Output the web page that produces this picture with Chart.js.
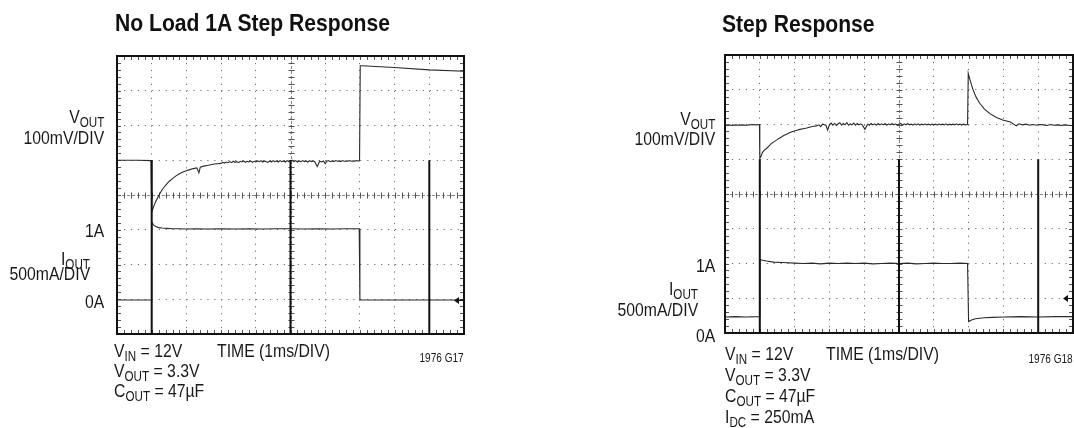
<!DOCTYPE html>
<html><head><meta charset="utf-8">
<script src="https://cdn.jsdelivr.net/npm/chart.js@4.4.1/dist/chart.umd.min.js"></script>
<style>
html,body{margin:0;padding:0;background:#fff;}
#wrap{position:relative;width:1074px;height:428px;overflow:hidden;background:#fff;font-family:"Liberation Sans",Arial,sans-serif;color:#1a1a1a;}
canvas{position:absolute;top:0;}
.t{position:absolute;white-space:nowrap;font-size:19px;line-height:19px;transform:scaleX(0.83);transform-origin:left top;}
.t.r{transform-origin:right top;}
.title{position:absolute;white-space:nowrap;font-weight:bold;font-size:24px;line-height:24px;transform:scaleX(0.88);transform-origin:left top;color:#111;}
.small{position:absolute;white-space:nowrap;font-size:12px;line-height:12px;transform:scaleX(0.84);transform-origin:right top;}
sub{font-size:0.74em;line-height:0;vertical-align:-0.28em;}
</style></head>
<body>
<div id="wrap">
  <canvas id="c1" width="537" height="428" style="left:0;width:537px;height:428px"></canvas>
  <canvas id="c2" width="537" height="428" style="left:537px;width:537px;height:428px"></canvas>

  <div class="title" style="left:115px;top:11px">No Load 1A Step Response</div>
  <div class="t r" style="right:970px;top:107px">V<sub>OUT</sub></div>
  <div class="t r" style="right:970px;top:128px">100mV/DIV</div>
  <div class="t r" style="right:970px;top:221px">1A</div>
  <div class="t r" style="right:984px;top:249px">I<sub>OUT</sub></div>
  <div class="t r" style="right:984px;top:264px">500mA/DIV</div>
  <div class="t r" style="right:970px;top:292px">0A</div>
  <div class="t" style="left:114px;top:341px">V<sub>IN</sub> = 12V</div>
  <div class="t" style="left:114px;top:361px">V<sub>OUT</sub> = 3.3V</div>
  <div class="t" style="left:114px;top:381px">C<sub>OUT</sub> = 47µF</div>
  <div class="t" style="left:217px;top:341px">TIME (1ms/DIV)</div>
  <div class="small" style="right:610px;top:352px">1976 G17</div>

  <div class="title" style="left:722px;top:12px">Step Response</div>
  <div class="t r" style="right:359px;top:109px">V<sub>OUT</sub></div>
  <div class="t r" style="right:359px;top:129px">100mV/DIV</div>
  <div class="t r" style="right:359px;top:256px">1A</div>
  <div class="t r" style="right:376px;top:279px">I<sub>OUT</sub></div>
  <div class="t r" style="right:376px;top:300px">500mA/DIV</div>
  <div class="t r" style="right:359px;top:326px">0A</div>
  <div class="t" style="left:725px;top:344px">V<sub>IN</sub> = 12V</div>
  <div class="t" style="left:725px;top:365px">V<sub>OUT</sub> = 3.3V</div>
  <div class="t" style="left:725px;top:386px">C<sub>OUT</sub> = 47µF</div>
  <div class="t" style="left:725px;top:407px">I<sub>DC</sub> = 250mA</div>
  <div class="t" style="left:826px;top:344px">TIME (1ms/DIV)</div>
  <div class="small" style="right:1px;top:353px">1976 G18</div>
</div>
<script>
// ---- Data (x in ms = divisions, y in screen divisions 0..8) ----
// Left chart: No Load 1A Step Response
const L_VOUT_T = [0, 0.3, 0.6, 0.98, 1.0, 1.04, 1.1, 1.2, 1.3, 1.4, 1.5, 1.6, 1.7, 1.8, 1.9, 2.0, 2.1, 2.2, 2.3, 2.36, 2.4, 2.5, 2.6, 2.7, 2.8, 2.9,
  3.0, 3.05, 3.1, 3.15, 3.2, 3.25, 3.3, 3.35, 3.4, 3.45, 3.5, 3.55, 3.6, 3.65, 3.7, 3.75, 3.8, 3.85, 3.9, 3.95,
  4.0, 4.05, 4.1, 4.15, 4.2, 4.25, 4.3, 4.35, 4.4, 4.45, 4.5, 4.55, 4.6, 4.65, 4.7, 4.75, 4.8, 4.85, 4.9, 4.95,
  5.0, 5.05, 5.1, 5.15, 5.2, 5.25, 5.3, 5.35, 5.4, 5.45, 5.5, 5.55, 5.6, 5.65, 5.7, 5.77, 5.84, 5.9, 5.95,
  6.0, 6.05, 6.1, 6.15, 6.2, 6.25, 6.3, 6.35, 6.4, 6.45, 6.5, 6.55, 6.6, 6.65, 6.7, 6.75, 6.8, 6.85, 6.9, 6.95, 6.99,
  7.01, 7.05, 8.0, 9.0, 10.0];
const L_VOUT_V = [5.0, 5.0, 5.0, 4.99, 3.52, 3.62, 3.78, 3.98, 4.15, 4.28, 4.39, 4.47, 4.55, 4.61, 4.66, 4.7, 4.73, 4.76, 4.78, 4.64, 4.8, 4.83, 4.85, 4.87, 4.89, 4.9,
  4.91, 4.94, 4.92, 4.95, 4.93, 4.96, 4.93, 4.97, 4.94, 4.96, 4.93, 4.97, 4.95, 4.98, 4.94, 4.97, 4.95, 4.98, 4.94, 4.97,
  4.95, 4.98, 4.96, 4.99, 4.95, 4.98, 4.96, 4.94, 4.98, 4.95, 4.99, 4.96, 4.98, 4.95, 4.99, 4.96, 4.98, 4.95, 4.99, 4.96,
  4.98, 5.0, 4.96, 4.99, 4.95, 4.98, 4.96, 4.99, 4.96, 4.98, 4.95, 4.99, 4.96, 4.98, 4.96, 4.82, 4.97, 4.95, 4.98,
  4.9, 4.97, 4.99, 4.96, 4.98, 4.96, 4.99, 4.97, 4.98, 4.96, 4.99, 4.97, 4.98, 4.97, 4.99, 4.97, 4.98, 4.97, 4.99, 4.98, 4.99,
  7.72, 7.72, 7.67, 7.6, 7.56];
const L_IOUT_T = [0, 0.99, 1.0, 1.05, 1.12, 1.2, 1.3, 1.45, 1.6, 1.8, 2.0, 2.3, 2.6, 3.0, 3.4, 3.8, 4.2, 4.6, 5.0, 5.4, 5.8, 6.2, 6.6, 6.98, 7.0, 10.0];
const L_IOUT_V = [0.98, 0.98, 3.22, 3.14, 3.09, 3.06, 3.05, 3.04, 3.03, 3.03, 3.02, 3.03, 3.02, 3.03, 3.02, 3.03, 3.02, 3.03, 3.03, 3.02, 3.03, 3.02, 3.03, 3.03, 0.98, 0.98];
const L_MARK_T = [1, 1, 1, 5, 5, 5, 9, 9];
const L_MARK_V = [5.0, 0, null, 5.0, 0, null, 5.0, 0];
const L_ARROW = 0.98;

// Right chart: Step Response
const R_VOUT_T = [0, 0.1, 0.2, 0.3, 0.4, 0.5, 0.6, 0.7, 0.8, 0.9, 0.99, 1.0, 1.03, 1.08, 1.14, 1.19, 1.26, 1.33, 1.4, 1.48, 1.55, 1.62, 1.7, 1.77, 1.85, 1.95, 2.05, 2.15, 2.25, 2.35, 2.45, 2.55, 2.63, 2.7, 2.75, 2.8, 2.9, 2.95,
  3.0, 3.05, 3.1, 3.15, 3.2, 3.25, 3.3, 3.35, 3.4, 3.45, 3.5, 3.55, 3.6, 3.65, 3.7, 3.75, 3.8, 3.85, 3.9, 3.95, 4.02,
  4.1, 4.15, 4.2, 4.25, 4.3, 4.35, 4.4, 4.45, 4.5, 4.55, 4.6, 4.65, 4.7, 4.75, 4.8, 4.85, 4.9, 4.95,
  5.0, 5.05, 5.1, 5.15, 5.2, 5.25, 5.3, 5.35, 5.4, 5.45, 5.5, 5.55, 5.6, 5.65, 5.7, 5.75, 5.8, 5.85, 5.9, 5.95,
  6.0, 6.05, 6.1, 6.15, 6.2, 6.25, 6.3, 6.35, 6.4, 6.45, 6.5, 6.55, 6.6, 6.65, 6.7, 6.75, 6.8, 6.85, 6.9, 6.97,
  6.99, 7.05, 7.13, 7.22, 7.32, 7.45, 7.6, 7.8, 7.98, 8.2, 8.37, 8.45, 8.55, 8.65, 8.75, 8.85, 8.95, 9.05, 9.15, 9.25, 9.35, 9.45, 9.55, 9.65, 9.75, 9.85, 9.95, 10.0];
const R_VOUT_V = [5.98, 5.99, 5.97, 5.99, 5.98, 5.99, 5.98, 5.99, 6.0, 5.99, 6.0, 5.03, 5.08, 5.2, 5.27, 5.31, 5.38, 5.45, 5.5, 5.55, 5.6, 5.64, 5.69, 5.72, 5.76, 5.8, 5.83, 5.86, 5.88, 5.9, 5.93, 5.95, 5.96, 5.99, 5.94, 6.01, 5.98, 5.84,
  5.99, 6.04, 5.98, 6.03, 5.97, 6.02, 6.05, 5.98, 6.03, 5.99, 6.05, 5.98, 6.02, 5.99, 6.04, 5.98, 6.03, 5.99, 6.02, 5.98, 5.86,
  6.01, 5.98, 6.03, 5.99, 6.02, 5.98, 6.03, 5.99, 6.02, 5.99, 6.03, 5.98, 6.02, 5.99, 6.03, 5.99, 6.02, 5.99,
  6.01, 6.03, 5.98, 6.02, 5.99, 6.03, 5.99, 6.01, 5.98, 6.02, 5.99, 6.02, 5.98, 6.01, 5.99, 6.02, 5.99, 6.01, 5.98, 6.01,
  5.99, 6.01, 5.98, 6.02, 5.99, 6.01, 5.99, 6.02, 5.98, 6.01, 5.99, 6.01, 5.99, 6.02, 5.99, 6.01, 5.98, 6.01, 5.99, 6.0,
  7.47, 7.25, 6.99, 6.78, 6.61, 6.45, 6.32, 6.2, 6.13, 6.07, 5.96, 6.02, 5.99, 6.01, 5.98, 6.0, 5.98, 6.0, 5.99, 5.97, 6.0, 5.98, 5.99, 5.97, 5.99, 5.98, 5.97, 5.98];
const R_IOUT_T = [0, 0.3, 0.6, 0.99, 1.0, 1.05, 1.19, 1.4, 1.66, 2.0, 2.25, 2.5, 2.75, 3.0, 3.25, 3.5, 3.75, 4.0, 4.25, 4.5, 4.75, 5.0, 5.25, 5.5, 5.75, 6.0, 6.25, 6.5, 6.75, 6.97,
  7.0, 7.1, 7.2, 7.45, 7.68, 8.0, 8.5, 9.0, 9.5, 10.0];
const R_IOUT_V = [0.46, 0.47, 0.46, 0.47, 2.12, 2.1, 2.07, 2.04, 2.03, 2.01, 2.0, 2.01, 1.99, 2.01, 2.0, 2.01, 2.0, 2.01, 1.99, 2.0, 2.01, 2.0, 2.01, 1.99, 2.0, 2.01, 2.0, 2.0, 2.01, 2.0,
  0.33, 0.38, 0.41, 0.44, 0.45, 0.46, 0.47, 0.46, 0.47, 0.47];
const R_MARK_T = [1, 1, 1, 5, 5, 5, 9, 9];
const R_MARK_V = [5.0, 0, null, 5.0, 0, null, 5.0, 0];
const R_ARROW = 1.0;

const X_DIVS = 10, Y_DIVS = 8;

// ---- helpers ----
const pts = (t, v) => t.map((x, i) => ({x: x, y: v[i]}));

const scopeDecor = {
  id: 'scopeDecor',
  beforeDatasetsDraw(chart) {
    const {ctx, chartArea: a, scales: {x, y}} = chart;
    ctx.save();
    const yc = Math.round(y.getPixelForValue(Y_DIVS / 2)) + 0.5;
    const xc = Math.round(x.getPixelForValue(X_DIVS / 2)) + 0.5;
    ctx.strokeStyle = '#8a8a8a';
    ctx.lineWidth = 1;
    ctx.setLineDash([3, 2]);
    ctx.beginPath();
    ctx.moveTo(a.left, yc); ctx.lineTo(a.right, yc);
    ctx.moveTo(xc, a.top); ctx.lineTo(xc, a.bottom);
    ctx.stroke();
    ctx.setLineDash([]);
    ctx.strokeStyle = '#555';
    ctx.beginPath();
    for (let i = 0; i <= X_DIVS * 5; i++) {
      const px = Math.round(x.getPixelForValue(i / 5)) + 0.5;
      ctx.moveTo(px, yc - 3); ctx.lineTo(px, yc + 3);
      ctx.moveTo(px, a.top); ctx.lineTo(px, a.top + 4);
      ctx.moveTo(px, a.bottom); ctx.lineTo(px, a.bottom - 4);
    }
    for (let i = 0; i <= Y_DIVS * 5; i++) {
      const py = Math.round(y.getPixelForValue(i / 5)) + 0.5;
      ctx.moveTo(xc - 3, py); ctx.lineTo(xc + 3, py);
      ctx.moveTo(a.left, py); ctx.lineTo(a.left + 4, py);
      ctx.moveTo(a.right, py); ctx.lineTo(a.right - 4, py);
    }
    ctx.stroke();
    ctx.restore();
  },
  afterDatasetsDraw(chart, args, opts) {
    const {ctx, chartArea: a, scales: {x, y}} = chart;
    ctx.save();
    ctx.strokeStyle = '#111';
    ctx.lineWidth = 2;
    ctx.strokeRect(a.left, a.top, a.right - a.left, a.bottom - a.top);
    const py = Math.round(y.getPixelForValue(opts.arrow)) + 0.5;
    const px = x.getPixelForValue(X_DIVS) - 3;
    ctx.fillStyle = '#111';
    ctx.lineWidth = 1;
    ctx.beginPath();
    ctx.moveTo(px - 7, py); ctx.lineTo(px - 2, py - 3.5); ctx.lineTo(px - 2, py + 3.5); ctx.closePath();
    ctx.fill();
    ctx.beginPath(); ctx.moveTo(px - 6, py); ctx.lineTo(px + 2, py); ctx.stroke();
    ctx.restore();
  }
};

function makeChart(id, vT, vV, iT, iV, mT, mV, arrow, pad) {
  const trace = (data, w, c) => ({data: data, borderColor: c, borderWidth: w, pointRadius: 0, tension: 0, spanGaps: false, fill: false});
  return new Chart(document.getElementById(id), {
    type: 'line',
    data: {datasets: [
      trace(pts(mT, mV), 2, '#111'),
      trace(pts(iT, iV), 1.1, '#2a2a2a'),
      trace(pts(vT, vV), 1.1, '#2a2a2a')
    ]},
    options: {
      responsive: false, animation: false, devicePixelRatio: 1,
      layout: {padding: pad},
      plugins: {legend: {display: false}, tooltip: {enabled: false}, title: {display: false}, scopeDecor: {arrow: arrow}},
      scales: {
        x: {type: 'linear', min: 0, max: X_DIVS,
            ticks: {display: false, stepSize: 1},
            grid: {color: '#6e6e6e', lineWidth: 1, drawTicks: false},
            border: {display: false, dash: [1.2, 5.75]}},
        y: {type: 'linear', min: 0, max: Y_DIVS,
            ticks: {display: false, stepSize: 1},
            grid: {color: '#6e6e6e', lineWidth: 1, drawTicks: false},
            border: {display: false, dash: [1.2, 5.75]}}
      }
    },
    plugins: [scopeDecor]
  });
}

makeChart('c1', L_VOUT_T, L_VOUT_V, L_IOUT_T, L_IOUT_V, L_MARK_T, L_MARK_V, L_ARROW,
  {left: 117, top: 56, right: 73, bottom: 94});
makeChart('c2', R_VOUT_T, R_VOUT_V, R_IOUT_T, R_IOUT_V, R_MARK_T, R_MARK_V, R_ARROW,
  {left: 188, top: 55, right: 1, bottom: 95});
</script>
</body></html>
